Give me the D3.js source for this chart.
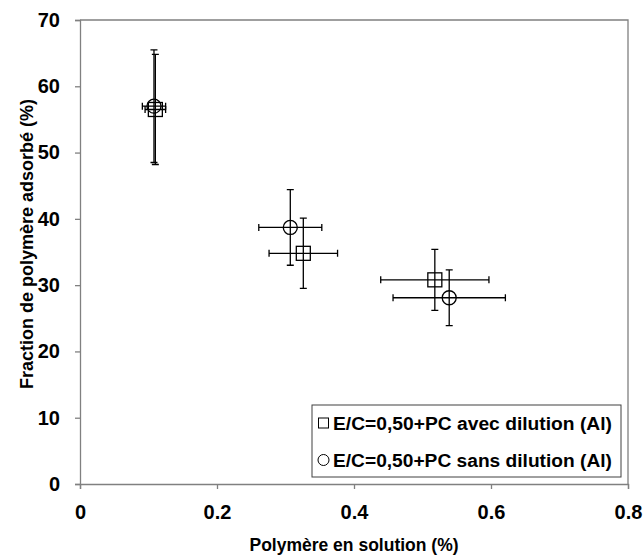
<!DOCTYPE html>
<html>
<head>
<meta charset="utf-8">
<script src="https://cdn.jsdelivr.net/npm/d3@7"></script>
<style>
body { margin: 0; background: #fff; }
svg { display: block; font-family: "Liberation Sans", Arial, sans-serif; }
</style>
</head>
<body>
<svg id="chart" width="643" height="556"></svg>
<script>
// Data
const seriesNames = ["E/C=0,50+PC avec dilution (Al)", "E/C=0,50+PC sans dilution (Al)"];
const seriesSymbols = ["square", "circle"];
const avecX = [0.110, 0.326, 0.518];
const avecY = [56.5, 34.8, 30.8];
const avecXErr = [0.015, 0.050, 0.079];
const avecYErr = [8.3, 5.3, 4.6];
const sansX = [0.108, 0.307, 0.539];
const sansY = [57.0, 38.7, 28.1];
const sansXErr = [0.017, 0.046, 0.082];
const sansYErr = [8.5, 5.7, 4.2];
const xTicks = [0, 0.2, 0.4, 0.6, 0.8];
const yTicks = [0, 10, 20, 30, 40, 50, 60, 70];
const xTitle = "Polymère en solution (%)";
const yTitle = "Fraction de polymère adsorbé (%)";

const svg = d3.select("#chart");
const L = 80, T = 20, R = 628, B = 484;
const x = d3.scaleLinear().domain([0, 0.8]).range([L, R]);
const y = d3.scaleLinear().domain([0, 70]).range([B, T]);

// frame (top & right)
svg.append("path")
  .attr("d", `M${L},${T}H${R}V${B}`)
  .attr("fill", "none").attr("stroke", "#808080").attr("stroke-width", 1.3);

const xAxis = svg.append("g").attr("transform", `translate(0,${B})`)
  .call(d3.axisBottom(x).tickValues(xTicks).tickSize(5).tickPadding(16).tickFormat(d => d === 0 ? "0" : d3.format(".1f")(d)));
const yAxis = svg.append("g").attr("transform", `translate(${L},0)`)
  .call(d3.axisLeft(y).tickValues(yTicks).tickSize(5).tickPadding(15).tickFormat(d3.format("d")));
[xAxis, yAxis].forEach(g => {
  g.attr("font-family", null).attr("font-size", null);
  g.select(".domain").attr("stroke", "#808080").attr("stroke-width", 1.3);
  g.selectAll(".tick line").attr("stroke", "#808080").attr("stroke-width", 1.3);
  g.selectAll(".tick text").attr("fill", "#000")
    .style("font-size", "20px").style("font-weight", "bold")
    .style("font-family", "'Liberation Sans', Arial, sans-serif");
});

svg.append("text").attr("x", 354).attr("y", 551).attr("text-anchor", "middle")
  .attr("font-size", "17.5px").attr("font-weight", "bold").text(xTitle);
svg.append("text").attr("transform", "translate(33,244) rotate(-90)").attr("text-anchor", "middle")
  .attr("font-size", "18px").attr("font-weight", "bold").text(yTitle);

const series = [
  {xs: avecX, ys: avecY, xe: avecXErr, ye: avecYErr, sym: "square"},
  {xs: sansX, ys: sansY, xe: sansXErr, ye: sansYErr, sym: "circle"}
];
const cap = 3.5;
series.forEach(s => {
  const g = svg.append("g").attr("stroke", "#000").attr("stroke-width", 1.3).attr("fill", "none");
  s.xs.forEach((xv, i) => {
    const cx = x(xv), cy = y(s.ys[i]);
    const y0 = y(s.ys[i] - s.ye[i]), y1 = y(s.ys[i] + s.ye[i]);
    const x0 = x(xv - s.xe[i]), x1 = x(xv + s.xe[i]);
    g.append("path").attr("d",
      `M${cx},${y0}V${y1}M${cx-cap},${y0}H${cx+cap}M${cx-cap},${y1}H${cx+cap}` +
      `M${x0},${cy}H${x1}M${x0},${cy-cap}V${cy+cap}M${x1},${cy-cap}V${cy+cap}`);
    if (s.sym === "square") {
      g.append("rect").attr("x", cx - 7).attr("y", cy - 7).attr("width", 14).attr("height", 14);
    } else {
      g.append("circle").attr("cx", cx).attr("cy", cy).attr("r", 7);
    }
  });
});

// legend
const lg = svg.append("g");
lg.append("rect").attr("x", 312).attr("y", 405).attr("width", 309).attr("height", 72)
  .attr("fill", "#fff").attr("stroke", "#404040").attr("stroke-width", 1);
seriesNames.forEach((name, i) => {
  const cy = 423 + i * 37;
  if (seriesSymbols[i] === "square") {
    lg.append("rect").attr("x", 318.5).attr("y", cy - 5).attr("width", 10).attr("height", 10)
      .attr("fill", "none").attr("stroke", "#000").attr("stroke-width", 1);
  } else {
    lg.append("circle").attr("cx", 323.5).attr("cy", cy).attr("r", 5.5)
      .attr("fill", "none").attr("stroke", "#000").attr("stroke-width", 1);
  }
  lg.append("text").attr("x", 333).attr("y", cy + 6.5)
    .attr("font-size", "18px").attr("font-weight", "bold")
    .attr("textLength", 279).attr("lengthAdjust", "spacingAndGlyphs").text(name);
});
</script>
</body>
</html>
